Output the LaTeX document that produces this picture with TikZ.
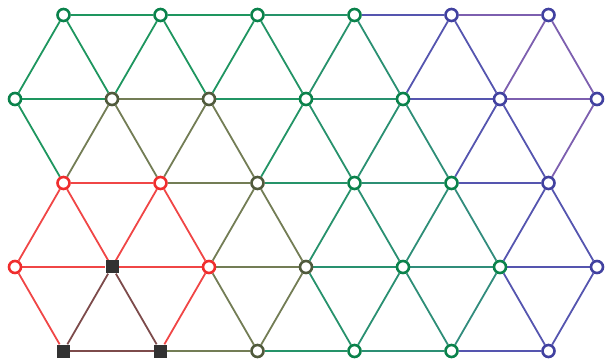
\documentclass[tikz,border=0pt]{standalone}
\definecolor{nc1}{RGB}{50,50,50}
\definecolor{nc2}{RGB}{240,45,45}
\definecolor{nc3}{RGB}{80,90,60}
\definecolor{nc4}{RGB}{10,130,75}
\definecolor{nc6}{RGB}{65,65,160}
\definecolor{nc7}{RGB}{65,65,160}
\definecolor{ecS}{RGB}{125,75,75}
\definecolor{ecR}{RGB}{240,70,70}
\definecolor{ecO}{RGB}{115,125,85}
\definecolor{ecG}{RGB}{30,150,95}
\definecolor{ecT}{RGB}{50,140,125}
\definecolor{ecP}{RGB}{85,85,175}
\definecolor{ecQ}{RGB}{125,95,175}
\pgfdeclarelayer{background}
\pgfsetlayers{background,main}
\newcommand\edgeAB[4]{%
  \edef\ra{\csname nt-#1-#2\endcsname}\edef\rb{\csname nt-#3-#4\endcsname}%
  \pgfmathtruncatemacro\mx{max(\ra,\rb)}%
  \pgfmathtruncatemacro\pc{max(0,min(100,(465-24.25*(#2+#4))/2.6))}%
  \ifcase\mx\or\def\ec{ecS}\or\def\ec{ecR}\or\def\ec{ecO}\or\edef\ec{ecG!\pc!ecT}\or\def\ec{ecT}\or\def\ec{ecP}\or\def\ec{ecQ}\fi
  \begin{pgfonlayer}{background}
  \draw[edgeline,draw=\ec] (n-#1-#2) -- (n-#3-#4);
  \end{pgfonlayer}}
\begin{document}
\begin{tikzpicture}[x=1pt,y=-1pt,
  ring/.style={circle,fill=white,line width=2.6pt,minimum size=12pt,inner sep=0pt},
  sq/.style={rectangle,fill=nc1,minimum size=13pt,inner sep=0pt},
  edgeline/.style={line width=1.8pt}]
\useasboundingbox (0,0) rectangle (605,363);
\foreach \r/\h/\t in {0/1/4,0/3/4,0/5/4,0/7/4,0/9/6,0/11/7,
  1/0/4,1/2/3,1/4/3,1/6/4,1/8/4,1/10/6,1/12/7,
  2/1/2,2/3/2,2/5/3,2/7/4,2/9/4,2/11/6,
  3/0/2,3/2/1,3/4/2,3/6/3,3/8/4,3/10/4,3/12/6,
  4/1/1,4/3/1,4/5/3,4/7/4,4/9/4,4/11/6}{
  \pgfmathsetmacro\xx{15+48.5*\h}
  \pgfmathsetmacro\yy{15+84*\r}
  \ifnum\t=1
    \node[sq] (n-\r-\h) at (\xx,\yy) {};
  \else
    \node[ring,draw=nc\t] (n-\r-\h) at (\xx,\yy) {};
  \fi
  \expandafter\xdef\csname nt-\r-\h\endcsname{\t}
}
\foreach \r in {0,2,4}{\foreach \h in {1,3,5,7,9}{\pgfmathtruncatemacro\hh{\h+2}\edgeAB{\r}{\h}{\r}{\hh}}}
\foreach \r in {1,3}{\foreach \h in {0,2,4,6,8,10}{\pgfmathtruncatemacro\hh{\h+2}\edgeAB{\r}{\h}{\r}{\hh}}}
\foreach \ro/\re in {0/1,2/1,2/3,4/3}{\foreach \h in {1,3,5,7,9,11}{%
  \pgfmathtruncatemacro\ha{\h-1}\pgfmathtruncatemacro\hb{\h+1}%
  \edgeAB{\ro}{\h}{\re}{\ha}\edgeAB{\ro}{\h}{\re}{\hb}}}
\end{tikzpicture}
\end{document}
